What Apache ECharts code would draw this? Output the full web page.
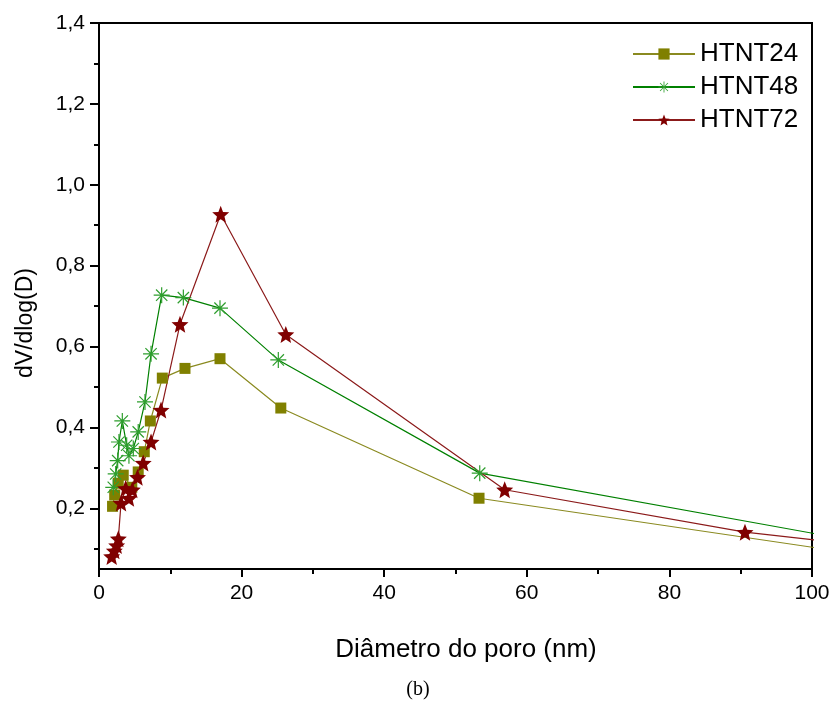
<!DOCTYPE html>
<html><head><meta charset="utf-8">
<script src="https://cdn.jsdelivr.net/npm/echarts@6/dist/echarts.min.js"></script>
<style>html,body{margin:0;padding:0;background:#fff}#c{width:835px;height:704px}</style>
</head><body><div id="c"></div>
<script>
// Pore diameter (nm) and dV/dlog(D) per sample (last point lies beyond the axis and is clipped)
const diam24 = [1.9, 2.2, 2.7, 3.4, 4.6, 5.5, 6.35, 7.2, 8.88, 12.06, 16.97, 25.5, 53.3, 120];
const vals24 = [0.205, 0.233, 0.262, 0.282, 0.252, 0.29, 0.34, 0.416, 0.522, 0.546, 0.570, 0.448, 0.225, 0.052];
const diam48 = [2.0, 2.34, 2.62, 2.8, 3.27, 3.88, 4.2, 4.81, 5.5, 6.45, 7.3, 8.79, 11.83, 16.97, 25.15, 53.4, 120];
const vals48 = [0.252, 0.285, 0.318, 0.364, 0.416, 0.356, 0.33, 0.348, 0.389, 0.463, 0.582, 0.727, 0.721, 0.695, 0.567, 0.287, 0.075];
const diam72 = [1.78, 2.15, 2.48, 2.71, 3.09, 3.74, 4.2, 4.67, 5.4, 6.2, 7.3, 8.7, 11.36, 17.07, 26.2, 56.9, 90.6, 120];
const vals72 = [0.081, 0.095, 0.108, 0.125, 0.213, 0.249, 0.225, 0.246, 0.277, 0.312, 0.364, 0.443, 0.655, 0.927, 0.630, 0.246, 0.141, 0.083];
const seriesNames = ['HTNT24', 'HTNT48', 'HTNT72'];
const yMajorTicks = [0.2, 0.4, 0.6, 0.8, 1.0, 1.2, 1.4];
const yMinorTicks = [0.1, 0.3, 0.5, 0.7, 0.9, 1.1, 1.3];
const xLabel = 'Diâmetro do poro (nm)';
const yLabel = 'dV/dlog(D)';
const caption = '(b)';

const zip = (a, b) => a.map((v, i) => [v, b[i]]);
const STAR = 'path://M10 0 L12.6 6.5 L19.51 6.91 L14.2 11.4 L15.88 18.09 L10 14.4 L4.12 18.09 L5.8 11.4 L0.49 6.91 L7.4 6.5 Z';
const AST = 'path://M0 9.25 L20 9.25 L20 10.75 L0 10.75 Z M9.25 0 L10.75 0 L10.75 20 L9.25 20 Z M3.47 2.41 L17.59 16.53 L16.53 17.59 L2.41 3.47 Z M16.53 2.41 L17.59 3.47 L3.47 17.59 L2.41 16.53 Z M8.5 8.5 L11.5 8.5 L11.5 11.5 L8.5 11.5 Z';
const FONT = 'Liberation Sans';

const chart = echarts.init(document.getElementById('c'));
chart.setOption({
  animation: false,
  backgroundColor: '#fff',
  grid: { left: 99, right: 23, top: 23, bottom: 135, show: true, borderColor: '#000', borderWidth: 2, backgroundColor: 'transparent' },
  legend: {
    orient: 'vertical', left: 627, top: 36, itemWidth: 62, itemHeight: 14, itemGap: 7,
    data: seriesNames,
    textStyle: { fontFamily: FONT, fontSize: 26, color: '#000', lineHeight: 24 }
  },
  xAxis: {
    type: 'value', min: 0, max: 100, interval: 20,
    axisLine: { show: true, lineStyle: { color: '#000', width: 2 } },
    axisTick: { show: true, length: 8, lineStyle: { color: '#000', width: 2 } },
    minorTick: { show: true, splitNumber: 2, length: 5, lineStyle: { color: '#000', width: 2 } },
    axisLabel: { fontFamily: FONT, fontSize: 21, color: '#000', margin: 14 },
    splitLine: { show: false }
  },
  yAxis: [{
    type: 'value', min: 0.05, max: 1.4, position: 'left',
    axisLine: { show: true, lineStyle: { color: '#000', width: 2 } },
    axisTick: { show: true, length: 9, customValues: yMajorTicks, lineStyle: { color: '#000', width: 2 } },
    axisLabel: { fontFamily: FONT, fontSize: 21, color: '#000', margin: 14, customValues: yMajorTicks,
      formatter: v => v.toFixed(1).replace('.', ',') },
    splitLine: { show: false }
  }, {
    type: 'value', min: 0.05, max: 1.4, position: 'right', offset: -713,
    axisLine: { show: false },
    axisTick: { show: true, inside: true, length: 5, customValues: yMinorTicks, lineStyle: { color: '#000', width: 2 } },
    axisLabel: { show: false },
    splitLine: { show: false }
  }],
  graphic: [
    { type: 'text', x: 26, y: 323, rotation: Math.PI / 2, style: { text: yLabel, font: '23px "Liberation Sans"', fill: '#000', align: 'center', verticalAlign: 'middle' } },
    { type: 'text', x: 466, y: 650, style: { text: xLabel, font: '26px "Liberation Sans"', fill: '#000', align: 'center', verticalAlign: 'middle' } },
    { type: 'text', x: 418, y: 690, style: { text: caption, font: '20px "Liberation Serif"', fill: '#000', align: 'center', verticalAlign: 'middle' } }
  ],
  series: [
    { name: seriesNames[0], type: 'line', data: zip(diam24, vals24), clip: true,
      symbol: 'rect', symbolSize: 11, color: '#808000',
      lineStyle: { color: '#8a8a20', width: 1.2 }, itemStyle: { color: '#808000' } },
    { name: seriesNames[1], type: 'line', data: zip(diam48, vals48), clip: true,
      symbol: AST, symbolSize: 16, color: '#239b23',
      lineStyle: { color: '#008000', width: 1.2 }, itemStyle: { color: '#2e9e2e' } },
    { name: seriesNames[2], type: 'line', data: zip(diam72, vals72), clip: true,
      symbol: STAR, symbolSize: 17, color: '#800000',
      lineStyle: { color: '#8b1a1a', width: 1.2 }, itemStyle: { color: '#800000' } }
  ]
});
</script></body></html>
